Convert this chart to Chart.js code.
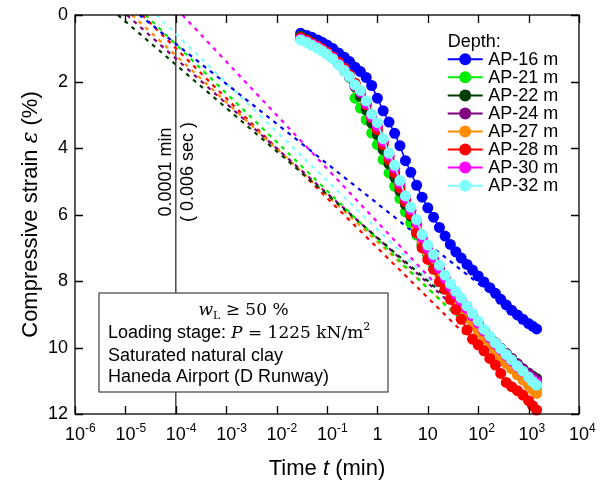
<!DOCTYPE html>
<html>
<head>
<meta charset="utf-8">
<script src="https://cdn.jsdelivr.net/npm/chart.js@4"></script>
<style>
  html, body { margin: 0; padding: 0; background: #fff; }
  canvas { display: block; }
</style>
</head>
<body>
<canvas id="chart" width="607" height="482"></canvas>
<script>
// Consolidation curves: compressive strain vs. elapsed time, Haneda Airport clay
const depthLabels = ['AP-16 m', 'AP-21 m', 'AP-22 m', 'AP-24 m', 'AP-27 m', 'AP-28 m', 'AP-30 m', 'AP-32 m'];
const seriesColors = ['#0000ff', '#00ee00', '#003d00', '#800080', '#ff8c00', '#ff0000', '#ff00ff', '#80ffff'];

// elapsed time (min)
const timeMin = [0.03, 0.04, 0.05, 0.065, 0.08, 0.1, 0.13, 0.17, 0.22, 0.28,
  0.36, 0.46, 0.6, 0.77, 1, 1.3, 1.7, 2.2, 2.8, 3.6,
  4.6, 6, 7.7, 10, 13, 17, 22, 28, 36, 46,
  60, 77, 100, 130, 170, 220, 280, 360, 460, 600,
  770, 1000, 1200, 1440];

// compressive strain (%)
const strainAP16 = [0.55, 0.62, 0.67, 0.75, 0.82, 0.90, 1.01, 1.14, 1.27, 1.40,
  1.57, 1.70, 1.88, 2.12, 2.50, 2.88, 3.22, 3.56, 3.93, 4.38,
  4.73, 5.12, 5.48, 5.80, 6.08, 6.39, 6.65, 6.90, 7.12, 7.31,
  7.50, 7.67, 7.85, 8.03, 8.20, 8.37, 8.55, 8.72, 8.88, 9.02,
  9.15, 9.28, 9.36, 9.44];
const strainAP21 = [0.65, 0.75, 0.84, 0.97, 1.05, 1.17, 1.30, 1.46, 1.68, 1.88,
  2.50, 2.80, 3.15, 3.55, 3.90, 4.35, 4.75, 5.15, 5.52, 5.92,
  6.25, 6.62, 6.95, 7.22, 7.50, 7.80, 8.08, 8.33, 8.56, 8.76,
  8.98, 9.20, 9.40, 9.62, 9.84, 10.02, 10.20, 10.38, 10.53, 10.70,
  10.86, 11.00, 11.12, 11.22];
const strainAP22 = [0.65, 0.74, 0.83, 0.94, 1.03, 1.14, 1.28, 1.44, 1.63, 1.85,
  2.15, 2.45, 2.85, 3.25, 3.60, 4.05, 4.48, 4.88, 5.30, 5.70,
  6.05, 6.50, 6.88, 7.18, 7.45, 7.74, 8.00, 8.24, 8.46, 8.66,
  8.88, 9.08, 9.28, 9.48, 9.68, 9.86, 10.02, 10.18, 10.33, 10.49,
  10.64, 10.77, 10.86, 10.93];
const strainAP24 = [0.70, 0.79, 0.87, 0.97, 1.05, 1.15, 1.29, 1.46, 1.63, 1.83,
  2.07, 2.30, 2.66, 3.05, 3.38, 3.82, 4.25, 4.62, 5.08, 5.52,
  5.88, 6.30, 6.72, 7.05, 7.33, 7.64, 7.92, 8.18, 8.42, 8.62,
  8.85, 9.06, 9.26, 9.48, 9.68, 9.86, 10.02, 10.18, 10.33, 10.49,
  10.64, 10.78, 10.88, 10.97];
const strainAP27 = [0.70, 0.78, 0.86, 0.96, 1.04, 1.14, 1.28, 1.44, 1.62, 1.82,
  2.06, 2.28, 2.65, 3.05, 3.40, 3.85, 4.28, 4.68, 5.12, 5.55,
  5.92, 6.40, 6.82, 7.15, 7.45, 7.78, 8.05, 8.33, 8.60, 8.83,
  9.10, 9.33, 9.52, 9.72, 9.93, 10.12, 10.30, 10.48, 10.64, 10.82,
  10.98, 11.14, 11.27, 11.38];
const strainAP28 = [0.68, 0.76, 0.84, 0.94, 1.02, 1.12, 1.26, 1.42, 1.60, 1.80,
  2.05, 2.30, 2.70, 3.10, 3.45, 3.90, 4.35, 4.75, 5.20, 5.62,
  6.00, 6.55, 7.00, 7.35, 7.65, 8.02, 8.25, 8.55, 8.86, 9.15,
  9.47, 9.75, 9.92, 10.10, 10.33, 10.53, 10.78, 11.05, 11.18, 11.30,
  11.43, 11.60, 11.75, 11.88];
const strainAP30 = [0.72, 0.80, 0.88, 0.98, 1.06, 1.16, 1.30, 1.48, 1.66, 1.86,
  2.12, 2.32, 2.66, 3.05, 3.34, 3.80, 4.22, 4.60, 5.05, 5.50,
  5.85, 6.25, 6.70, 7.02, 7.30, 7.62, 7.92, 8.18, 8.40, 8.60,
  8.84, 9.05, 9.27, 9.50, 9.71, 9.90, 10.06, 10.24, 10.40, 10.57,
  10.72, 10.88, 10.98, 11.06];
const strainAP32 = [0.75, 0.83, 0.91, 1.00, 1.08, 1.18, 1.32, 1.50, 1.67, 1.85,
  2.10, 2.27, 2.58, 2.98, 3.24, 3.72, 4.15, 4.52, 4.98, 5.44,
  5.78, 6.15, 6.60, 6.92, 7.20, 7.52, 7.82, 8.08, 8.31, 8.51,
  8.75, 8.97, 9.20, 9.45, 9.66, 9.86, 10.03, 10.21, 10.37, 10.55,
  10.71, 10.89, 11.02, 11.13];
const strainSeries = [strainAP16, strainAP21, strainAP22, strainAP24, strainAP27, strainAP28, strainAP30, strainAP32];

// secondary-compression tangents: time where strain = 0, end point (time, strain)
const fitStartTime = [1.9e-5, 2.5e-5, 7.1e-6, 1.07e-5, 1.35e-5, 2.15e-5, 1.35e-4, 4.1e-5];
const fitEndTime = [170, 170, 170, 170, 170, 170, 170, 170];
const fitEndStrain = [8.35, 10.02, 9.60, 9.72, 9.94, 10.35, 9.82, 9.73];

// axis ticks
const xTickExponents = [-6, -5, -4, -3, -2, -1, 0, 1, 2, 3, 4];
const yTickValues = [0, 2, 4, 6, 8, 10, 12];
const markerTime = 1e-4; // 0.0001 min = 0.006 sec

const SANS = '"Liberation Sans", Arial, sans-serif';
const SERIF = '"DejaVu Serif", serif';

const datasets = [];
strainSeries.forEach((vals, i) => {
  datasets.push({
    label: depthLabels[i],
    data: timeMin.map((t, k) => ({ x: t, y: vals[k] })),
    showLine: true,
    borderColor: seriesColors[i],
    backgroundColor: seriesColors[i],
    borderWidth: 1.6,
    pointRadius: 5.5,
    pointBorderWidth: 0,
    pointHoverRadius: 5.5,
    clip: false,
    order: strainSeries.length - i
  });
});
fitStartTime.forEach((t0, i) => {
  datasets.push({
    label: depthLabels[i] + ' fit',
    data: [{ x: t0, y: 0 }, { x: fitEndTime[i], y: fitEndStrain[i] }],
    showLine: true,
    borderColor: seriesColors[i],
    borderWidth: 2.2,
    borderDash: [4, 5],
    pointRadius: 0,
    fill: false,
    order: 50
  });
});

function drawRuns(ctx, runs, x, yBase) {
  let cx = x;
  runs.forEach(r => {
    ctx.font = r.font;
    ctx.fillText(r.text, cx, yBase + (r.dy || 0));
    cx += ctx.measureText(r.text).width;
  });
  return cx;
}
function runsWidth(ctx, runs) {
  let w = 0;
  runs.forEach(r => { ctx.font = r.font; w += ctx.measureText(r.text).width; });
  return w;
}

const decor = {
  id: 'decor',
  beforeDatasetsDraw(chart) {
    const { ctx, chartArea: a, scales } = chart;
    const xv = scales.x.getPixelForValue(markerTime);
    ctx.save();
    ctx.strokeStyle = '#4a4a4a';
    ctx.lineWidth = 1.5;
    ctx.beginPath();
    ctx.moveTo(xv, a.top);
    ctx.lineTo(xv, a.bottom);
    ctx.stroke();
    ctx.fillStyle = '#000';
    ctx.font = '18px ' + SANS;
    ctx.textAlign = 'center';
    ctx.textBaseline = 'alphabetic';
    ctx.translate(xv, 172);
    ctx.rotate(-Math.PI / 2);
    ctx.fillText('0.0001 min', 0, -4.5);
    ctx.fillText('( 0.006 sec )', 0, 17.5);
    ctx.restore();
  },
  afterDatasetsDraw(chart) {
    const { ctx, chartArea: a, scales } = chart;
    const xs = scales.x, ys = scales.y;
    ctx.save();

    // info box
    const bx = a.left + 24, by = a.top + 278, bw = 289, bh = 99;
    ctx.fillStyle = '#fff';
    ctx.fillRect(bx, by, bw, bh);
    ctx.strokeStyle = '#404040';
    ctx.lineWidth = 1.2;
    ctx.strokeRect(bx, by, bw, bh);
    ctx.fillStyle = '#000';
    ctx.textAlign = 'left';
    ctx.textBaseline = 'alphabetic';
    const line1 = [
      { text: 'w', font: 'italic 17px ' + SERIF },
      { text: 'L', font: '11px ' + SERIF, dy: 4 },
      { text: ' \u2265 50 %', font: '17px ' + SERIF }
    ];
    drawRuns(ctx, line1, bx + bw / 2 - runsWidth(ctx, line1) / 2, by + 22);
    drawRuns(ctx, [
      { text: 'Loading stage: ', font: '18px ' + SANS },
      { text: 'P', font: 'italic 17px ' + SERIF },
      { text: ' = 1225 kN/m', font: '17px ' + SERIF },
      { text: '2', font: '11px ' + SERIF, dy: -8 }
    ], bx + 9, by + 45);
    ctx.font = '18px ' + SANS;
    ctx.fillText('Saturated natural clay', bx + 9, by + 67.5);
    ctx.fillText('Haneda Airport (D Runway)', bx + 9, by + 89);

    // frame
    ctx.strokeStyle = '#000';
    ctx.lineWidth = 1.3;
    ctx.strokeRect(a.left, a.top, a.right - a.left, a.bottom - a.top);

    // ticks (inward)
    ctx.beginPath();
    xTickExponents.forEach(e => {
      const px = Math.round(xs.getPixelForValue(Math.pow(10, e))) + 0.5;
      ctx.moveTo(px, a.bottom); ctx.lineTo(px, a.bottom - 8);
      ctx.moveTo(px, a.top); ctx.lineTo(px, a.top + 8);
    });
    yTickValues.forEach(v => {
      const py = Math.round(ys.getPixelForValue(v)) + 0.5;
      ctx.moveTo(a.left, py); ctx.lineTo(a.left + 8, py);
      ctx.moveTo(a.right, py); ctx.lineTo(a.right - 8, py);
    });
    ctx.stroke();

    // x tick labels
    ctx.fillStyle = '#000';
    xTickExponents.forEach(e => {
      const px = xs.getPixelForValue(Math.pow(10, e));
      ctx.font = '18px ' + SANS;
      if (e === 0 || e === 1) {
        ctx.textAlign = 'center';
        ctx.fillText(e === 0 ? '1' : '10', px, a.bottom + 26);
      } else {
        ctx.textAlign = 'center';
        ctx.fillText('10', px, a.bottom + 26);
        const w = ctx.measureText('10').width;
        ctx.textAlign = 'left';
        ctx.font = '12px ' + SANS;
        ctx.fillText(String(e), px + w / 2, a.bottom + 18);
      }
    });

    // y tick labels
    ctx.font = '18px ' + SANS;
    ctx.textAlign = 'right';
    ctx.textBaseline = 'middle';
    yTickValues.forEach(v => {
      ctx.fillText(String(v), a.left - 7, ys.getPixelForValue(v) + 0.5);
    });

    // axis titles
    ctx.textAlign = 'left';
    ctx.textBaseline = 'alphabetic';
    const xTitle = [
      { text: 'Time ', font: '22px ' + SANS },
      { text: 't', font: 'italic 22px ' + SANS },
      { text: ' (min)', font: '22px ' + SANS }
    ];
    drawRuns(ctx, xTitle, (a.left + a.right) / 2 - runsWidth(ctx, xTitle) / 2, a.bottom + 61);
    const yTitle = [
      { text: 'Compressive strain ', font: '22px ' + SANS },
      { text: '\u03b5', font: 'italic 22px ' + SERIF },
      { text: ' (%)', font: '22px ' + SANS }
    ];
    ctx.save();
    ctx.translate(36.5, (a.top + a.bottom) / 2);
    ctx.rotate(-Math.PI / 2);
    drawRuns(ctx, yTitle, -runsWidth(ctx, yTitle) / 2, 0);
    ctx.restore();

    // legend
    const lx = a.right - 131.3, ly = a.top + 44.3;
    ctx.font = '18px ' + SANS;
    ctx.textAlign = 'left';
    ctx.textBaseline = 'alphabetic';
    ctx.fillText('Depth:', lx, a.top + 31.5);
    ctx.textBaseline = 'middle';
    depthLabels.forEach((lab, i) => {
      const yy = ly + i * 18.05;
      ctx.strokeStyle = seriesColors[i];
      ctx.lineWidth = 2;
      ctx.beginPath();
      ctx.moveTo(lx, yy); ctx.lineTo(lx + 35, yy);
      ctx.stroke();
      ctx.fillStyle = seriesColors[i];
      ctx.beginPath();
      ctx.arc(lx + 17.5, yy, 6, 0, Math.PI * 2);
      ctx.fill();
      ctx.fillStyle = '#000';
      ctx.fillText(lab, lx + 40.5, yy + 0.5);
    });
    ctx.restore();
  }
};

new Chart(document.getElementById('chart'), {
  type: 'scatter',
  data: { datasets },
  options: {
    responsive: false,
    devicePixelRatio: 1,
    animation: false,
    layout: { padding: { left: 0, right: 28, top: 15, bottom: 0 } },
    plugins: { legend: { display: false }, tooltip: { enabled: false } },
    scales: {
      x: {
        type: 'logarithmic',
        min: 1e-6,
        max: 1e4,
        ticks: { display: false },
        grid: { display: false },
        border: { display: false },
        afterFit: s => { s.height = 68; }
      },
      y: {
        type: 'linear',
        reverse: true,
        min: 0,
        max: 12,
        ticks: { display: false },
        grid: { display: false },
        border: { display: false },
        afterFit: s => { s.width = 75; }
      }
    }
  },
  plugins: [decor]
});
</script>
</body>
</html>
